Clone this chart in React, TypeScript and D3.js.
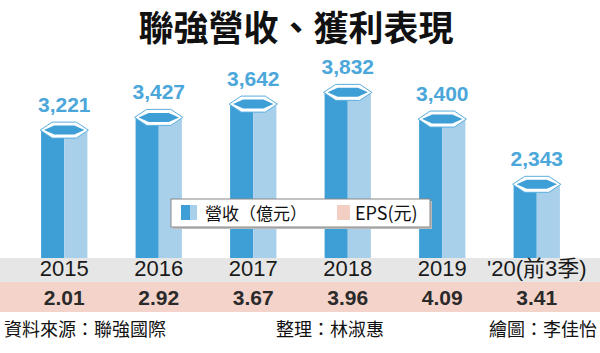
import React, { useEffect, useRef } from 'react';
import * as d3 from 'd3';

const years = ['2015', '2016', '2017', '2018', '2019', "'20(前3季)"];
const revenue = [3221, 3427, 3642, 3832, 3400, 2343];
const revenueLabels = ['3,221', '3,427', '3,642', '3,832', '3,400', '2,343'];
const eps = ['2.01', '2.92', '3.67', '3.96', '4.09', '3.41'];
const footer = ['資料來源：聯強國際', '整理：林淑惠', '繪圖：李佳怡'];
const legendItems = ['營收（億元）', 'EPS(元)'];

const W = 600;
const H = 353;
const DARK = '#3e9fd6';
const LIGHT = '#a9d0ea';
const LABEL = '#4ba7da';
const CJK = '"Noto Sans CJK TC", "Noto Sans CJK SC", sans-serif';
const NUM = '"Liberation Sans", Arial, sans-serif';

const App: React.FC = () => {
  const svgRef = useRef<SVGSVGElement | null>(null);

  useEffect(() => {
    if (!svgRef.current) return;
    const svg = d3.select(svgRef.current);
    svg.selectAll('*').remove();

    const x = d3.scaleBand<string>().domain(years).range([17, 584]).paddingInner(0.51).paddingOuter(0.255);
    const y = d3.scaleLinear().domain([0, 4000]).range([322, 75]);
    const bandTop = 258;

    svg.append('rect').attr('width', W).attr('height', H).attr('fill', '#fff');

    // title
    svg.append('text')
      .attr('x', 296).attr('y', 40.5)
      .attr('text-anchor', 'middle')
      .style('font-family', CJK).style('font-weight', 700).style('font-size', '35px')
      .attr('fill', '#111')
      .text('聯強營收、獲利表現');

    const bw = x.bandwidth();
    const hexH = 14;

    const bars = svg.append('g').selectAll('g').data(revenue).join('g');
    bars.each(function (v, i) {
      const g = d3.select(this);
      const x0 = x(years[i]) as number;
      const x1 = x0 + bw;
      const top = y(v);
      const cy = top + hexH / 2;
      const mid = x0 + bw / 2;
      g.append('rect').attr('x', x0).attr('y', cy).attr('width', mid - x0).attr('height', bandTop - cy).attr('fill', DARK);
      g.append('rect').attr('x', mid).attr('y', cy).attr('width', x1 - mid).attr('height', bandTop - cy).attr('fill', LIGHT);
      const hex = (ax: number, bx: number, t: number, b: number) => {
        const inset = (bx - ax) * 0.25;
        const m = (t + b) / 2;
        return `M${ax},${m}L${ax + inset},${t}L${bx - inset},${t}L${bx},${m}L${bx - inset},${b}L${ax + inset},${b}Z`;
      };
      g.append('path').attr('d', hex(x0 - 1, x1 + 1, top - 1, top + hexH + 1))
        .attr('fill', '#fff').attr('stroke', '#5aaede').attr('stroke-width', 1);
      g.append('path').attr('d', hex(x0 + 3, x1 - 3, top + 2.5, top + hexH - 2.5))
        .attr('fill', DARK);
      g.append('text')
        .attr('x', mid).attr('y', top - 11)
        .attr('text-anchor', 'middle')
        .style('font-family', NUM).style('font-weight', 700).style('font-size', '21px')
        .attr('fill', LABEL)
        .text(revenueLabels[i]);
    });

    // bands
    svg.append('rect').attr('x', 0).attr('y', bandTop).attr('width', W).attr('height', 24).attr('fill', '#e6e6e6');
    svg.append('rect').attr('x', 0).attr('y', 282).attr('width', W).attr('height', 30).attr('fill', '#f4d4ca');

    years.forEach((yr, i) => {
      const cx = (x(yr) as number) + bw / 2;
      svg.append('text')
        .attr('x', cx).attr('y', 276)
        .attr('text-anchor', 'middle')
        .style('font-family', `${NUM}, ${CJK}`).style('font-size', '22px')
        .attr('fill', '#1a1a1a')
        .text(yr);
      svg.append('text')
        .attr('x', cx).attr('y', 305)
        .attr('text-anchor', 'middle')
        .style('font-family', NUM).style('font-weight', 700).style('font-size', '21px')
        .attr('fill', '#2a2a2a')
        .text(eps[i]);
    });

    // legend
    const lg = svg.append('g');
    lg.append('rect').attr('x', 173).attr('y', 201).attr('width', 259).attr('height', 28).attr('fill', '#bbb');
    lg.append('rect').attr('x', 171).attr('y', 199).attr('width', 259).attr('height', 28)
      .attr('fill', '#fff').attr('stroke', '#888').attr('stroke-width', 1);
    lg.append('rect').attr('x', 181).attr('y', 205).attr('width', 9).attr('height', 15).attr('fill', DARK);
    lg.append('rect').attr('x', 190).attr('y', 205).attr('width', 7).attr('height', 15).attr('fill', LIGHT);
    lg.append('text').attr('x', 205).attr('y', 220)
      .style('font-family', CJK).style('font-size', '17px').attr('fill', '#111')
      .text(legendItems[0]);
    lg.append('rect').attr('x', 337).attr('y', 205).attr('width', 13).attr('height', 15).attr('fill', '#f3cfc3');
    lg.append('text').attr('x', 355).attr('y', 220)
      .style('font-family', CJK).style('font-size', '18px').attr('fill', '#111')
      .text(legendItems[1]);

    // footer
    const anchors = [
      { x: 4, a: 'start' },
      { x: 330, a: 'middle' },
      { x: 597, a: 'end' },
    ];
    footer.forEach((t, i) => {
      svg.append('text')
        .attr('x', anchors[i].x).attr('y', 336)
        .attr('text-anchor', anchors[i].a)
        .style('font-family', CJK).style('font-size', '18px')
        .attr('fill', '#111')
        .text(t);
    });

    return () => { svg.selectAll('*').remove(); };
  }, []);

  return (
    <svg
      ref={svgRef}
      width={W}
      height={H}
      style={{ position: 'absolute', left: 0, top: 0, display: 'block' }}
    />
  );
};

export default App;
